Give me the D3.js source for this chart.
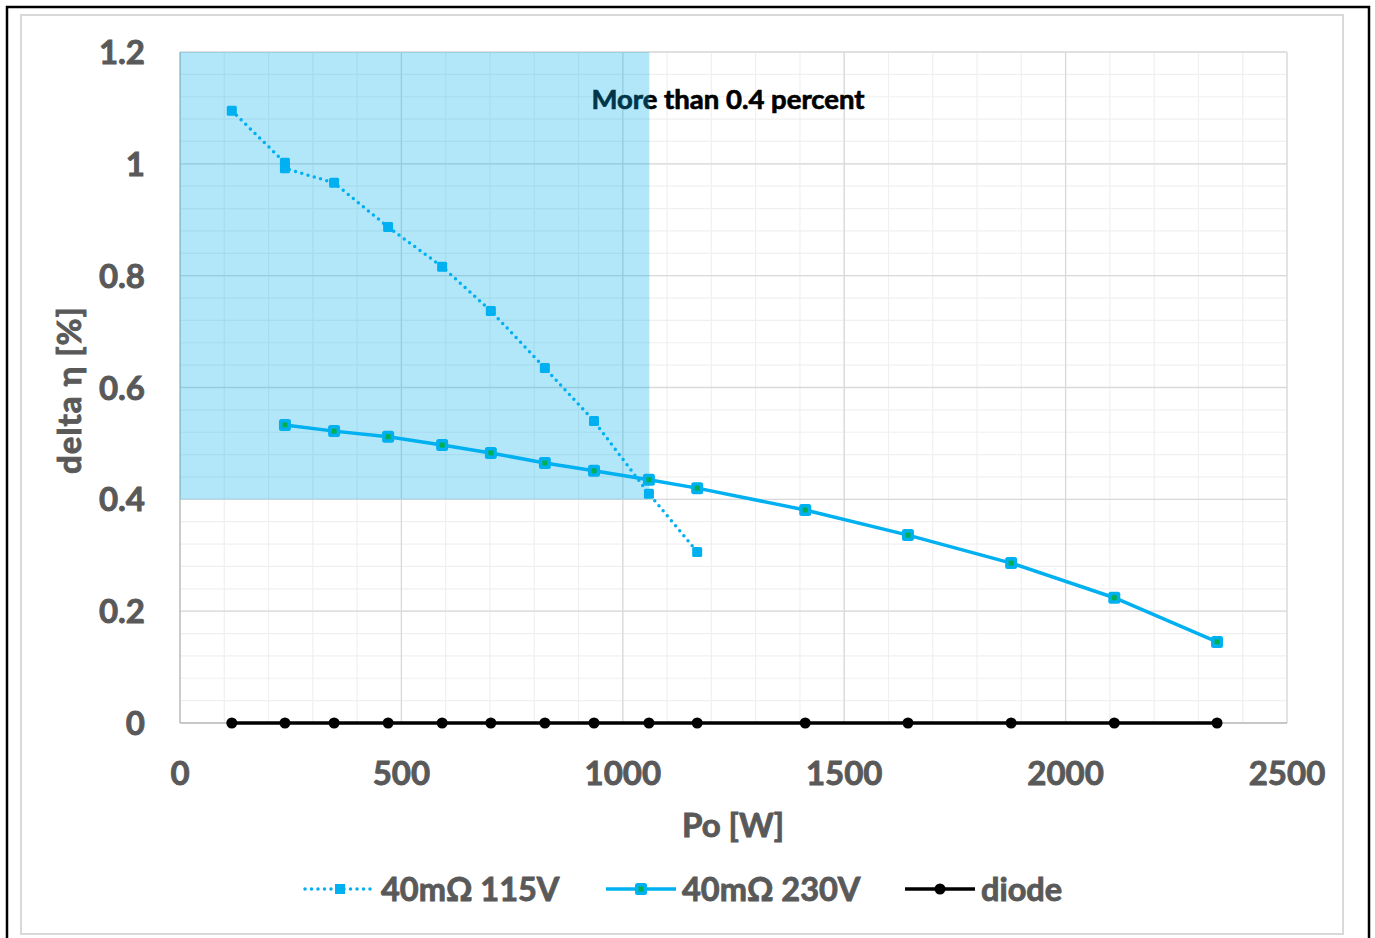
<!DOCTYPE html>
<html>
<head>
<meta charset="utf-8">
<script src="https://cdn.jsdelivr.net/npm/d3@7"></script>
<style>
  body { margin: 0; background: #fff; }
  svg { display: block; }
  text { font-family: Lato, "Open Sans", sans-serif; font-weight: 700; fill: #595959; stroke: #595959; stroke-width: 0.9px; }
</style>
</head>
<body>
<svg id="chart" width="1375" height="938"></svg>
<script>
// Po [W] of each measurement point
const po = [117, 237, 348, 470, 592, 702, 824, 935, 1059, 1168, 1412, 1644, 1877, 2110, 2342];
// 115V run (two readings sit at ~237 W)
const po115 = [117, 237, 237, 348, 470, 592, 702, 824, 935, 1059, 1168];
const eta115 = [1.095, 1.002, 0.992, 0.966, 0.887, 0.816, 0.737, 0.635, 0.540, 0.410, 0.306];
const eta230 = [null, 0.533, 0.522, 0.512, 0.497, 0.483, 0.465, 0.451, 0.435, 0.420, 0.381, 0.336, 0.286, 0.224, 0.145];
const etaDiode = [0, 0, 0, 0, 0, 0, 0, 0, 0, 0, 0, 0, 0, 0, 0];
const xTicks = [0, 500, 1000, 1500, 2000, 2500];
const yTicks = [0, 0.2, 0.4, 0.6, 0.8, 1, 1.2];
const shade = { x0: 0, x1: 1060, y0: 0.4, y1: 1.2 };

const blue = "#00b0f0";
const green = "#00b050";

const svg = d3.select("#chart");

// frames
svg.append("rect").attr("x", 7).attr("y", 7).attr("width", 1362).attr("height", 945)
  .attr("fill", "none").attr("stroke", "#000").attr("stroke-width", 2.5);
svg.append("rect").attr("x", 21).attr("y", 15).attr("width", 1322).attr("height", 919)
  .attr("fill", "none").attr("stroke", "#d9d9d9").attr("stroke-width", 2);

const x = d3.scaleLinear().domain([0, 2500]).range([180, 1287]);
const y = d3.scaleLinear().domain([0, 1.2]).range([723, 52]);

const g = svg.append("g");

// minor grid
g.append("g").selectAll("line").data(d3.range(0, 2501, 100)).join("line")
  .attr("x1", d => x(d)).attr("x2", d => x(d)).attr("y1", y(0)).attr("y2", y(1.2))
  .attr("stroke", "#f0f0f0").attr("stroke-width", 1.2);
g.append("g").selectAll("line").data(d3.range(0, 31).map(i => i * 0.04)).join("line")
  .attr("x1", x(0)).attr("x2", x(2500)).attr("y1", d => y(d)).attr("y2", d => y(d))
  .attr("stroke", "#f0f0f0").attr("stroke-width", 1.2);

// major grid
g.append("g").selectAll("line").data(xTicks).join("line")
  .attr("x1", d => x(d)).attr("x2", d => x(d)).attr("y1", y(0)).attr("y2", y(1.2))
  .attr("stroke", "#d9d9d9").attr("stroke-width", 1.3);
g.append("g").selectAll("line").data(yTicks).join("line")
  .attr("x1", x(0)).attr("x2", x(2500)).attr("y1", d => y(d)).attr("y2", d => y(d))
  .attr("stroke", "#d9d9d9").attr("stroke-width", 1.3);

// axis lines
g.append("line").attr("x1", x(0)).attr("x2", x(2500)).attr("y1", y(0)).attr("y2", y(0))
  .attr("stroke", "#bfbfbf").attr("stroke-width", 1.3);
g.append("line").attr("x1", x(0)).attr("x2", x(0)).attr("y1", y(0)).attr("y2", y(1.2))
  .attr("stroke", "#bfbfbf").attr("stroke-width", 1.3);

// annotation (drawn under the shading)
svg.append("text").attr("x", 728).attr("y", 109).attr("text-anchor", "middle")
  .style("font-size", "27.5px").style("fill", "#000").style("stroke", "#000").style("stroke-width", "0.7px")
  .text("More than 0.4 percent");

svg.append("rect")
  .attr("x", x(shade.x0)).attr("y", y(shade.y1))
  .attr("width", x(shade.x1) - x(shade.x0)).attr("height", y(shade.y0) - y(shade.y1))
  .attr("fill", blue).attr("fill-opacity", 0.3);

// tick labels
svg.append("g").selectAll("text").data(yTicks).join("text")
  .attr("x", 145).attr("y", d => y(d) + 12).attr("text-anchor", "end")
  .style("font-size", "33px").text(d => d);
svg.append("g").selectAll("text").data(xTicks).join("text")
  .attr("x", d => x(d)).attr("y", 785).attr("text-anchor", "middle")
  .style("font-size", "33px").text(d => d);

// axis titles
svg.append("text").attr("x", 733).attr("y", 837).attr("text-anchor", "middle")
  .style("font-size", "33px").text("Po [W]");
svg.append("text").attr("transform", "translate(81,390) rotate(-90)").attr("text-anchor", "middle")
  .style("font-size", "33px").style("letter-spacing", "1px").text("delta η [%]");

// series
const lineGen = d3.line().defined(d => d[1] != null).x(d => x(d[0])).y(d => y(d[1]));

const d115 = po115.map((p, i) => [p, eta115[i]]);
const d230 = po.map((p, i) => [p, eta230[i]]).filter(d => d[1] != null);
const dDiode = po.map((p, i) => [p, etaDiode[i]]);

svg.append("path").datum(dDiode).attr("d", lineGen)
  .attr("fill", "none").attr("stroke", "#000").attr("stroke-width", 3.5);
svg.append("g").selectAll("circle").data(dDiode).join("circle")
  .attr("cx", d => x(d[0])).attr("cy", d => y(d[1])).attr("r", 5.5).attr("fill", "#000");

svg.append("path").datum(d230).attr("d", lineGen)
  .attr("fill", "none").attr("stroke", blue).attr("stroke-width", 3.5);
svg.append("g").selectAll("g").data(d230).join("g")
  .attr("transform", d => `translate(${x(d[0])},${y(d[1])})`)
  .each(function () {
    const m = d3.select(this);
    m.append("rect").attr("x", -6).attr("y", -6).attr("width", 12).attr("height", 12)
      .attr("rx", 2.5).attr("fill", blue);
    m.append("rect").attr("x", -2.5).attr("y", -2.5).attr("width", 5).attr("height", 5).attr("fill", green);
  });

svg.append("path").datum(d115).attr("d", lineGen)
  .attr("fill", "none").attr("stroke", blue).attr("stroke-width", 3.5)
  .attr("stroke-linecap", "round").attr("stroke-dasharray", "0 6.5");
svg.append("g").selectAll("rect").data(d115).join("rect")
  .attr("x", d => x(d[0]) - 5).attr("y", d => y(d[1]) - 5)
  .attr("width", 10).attr("height", 10).attr("rx", 1.5).attr("fill", blue);

// legend
const legend = svg.append("g").attr("transform", "translate(0,889)");
const items = [
  { name: "40mΩ 115V", x0: 305, dash: true },
  { name: "40mΩ 230V", x0: 606 },
  { name: "diode", x0: 905, black: true }
];
items.forEach(it => {
  const c = it.black ? "#000" : blue;
  const ln = legend.append("line").attr("x1", it.x0).attr("x2", it.x0 + 70).attr("y1", 0).attr("y2", 0)
    .attr("stroke", c).attr("stroke-width", 3.5);
  if (it.dash) ln.attr("stroke-linecap", "round").attr("stroke-dasharray", "0 6.5");
  const cx = it.x0 + 35;
  if (it.black) {
    legend.append("circle").attr("cx", cx).attr("cy", 0).attr("r", 5.5).attr("fill", "#000");
  } else if (it.dash) {
    legend.append("rect").attr("x", cx - 5).attr("y", -5).attr("width", 10).attr("height", 10).attr("fill", blue);
  } else {
    legend.append("rect").attr("x", cx - 6).attr("y", -6).attr("width", 12).attr("height", 12).attr("rx", 2.5).attr("fill", blue);
    legend.append("rect").attr("x", cx - 2.5).attr("y", -2.5).attr("width", 5).attr("height", 5).attr("fill", green);
  }
  legend.append("text").attr("x", it.x0 + 76).attr("y", 12).style("font-size", "32.5px").text(it.name);
});
</script>
</body>
</html>
